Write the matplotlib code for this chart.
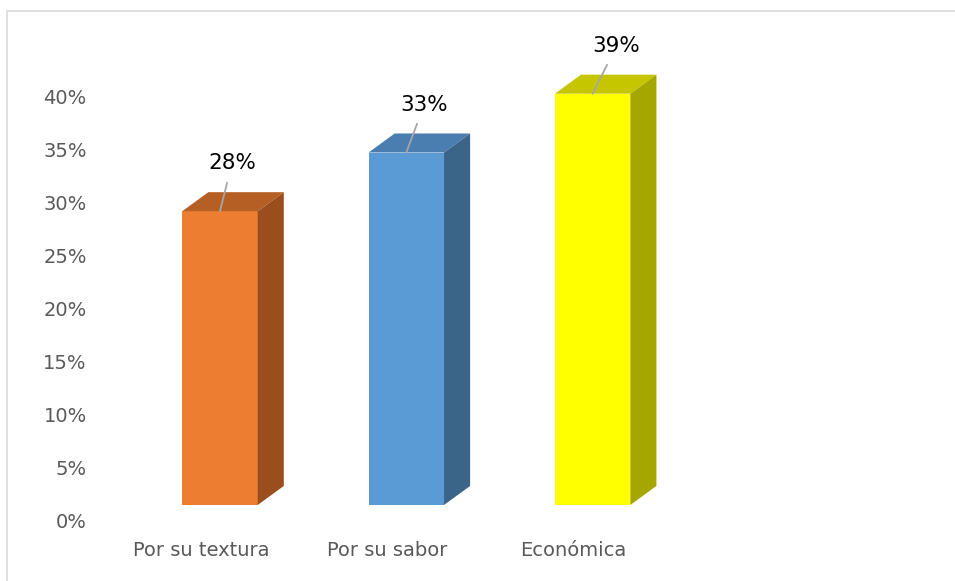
import matplotlib
matplotlib.use("Agg")
import matplotlib.pyplot as plt
from matplotlib.patches import Polygon, Rectangle
import numpy as np

# data
categories = ['Por su textura', 'Por su sabor', 'Económica']
values = [27.78, 33.33, 38.89]
yticks = [0, 5, 10, 15, 20, 25, 30, 35, 40]

front_colors = ['#ED7D31', '#5B9BD5', '#FFFF00']
top_colors = ['#B65F24', '#4A7DB0', '#C6C600']
side_colors = ['#9A4E1D', '#3B6489', '#A6A600']
label_dx = [12, 18, 24]  # pixel offsets of the value labels

plt.rcParams['font.family'] = ['DejaVu Sans']

fig = plt.figure(figsize=(9.55, 5.81), dpi=100)
ax = fig.add_axes([100 / 955, 61 / 581, 855 / 955, 465.3 / 581])

x = np.arange(len(categories))
base = 1.42      # 3d floor offset
shift = 0.102    # front face centre right of the category label
width = 0.405
dx, dy = 0.14, 1.8

ax.bar(x + shift, values, width=width, bottom=base, color=front_colors, zorder=3)
for i, v in enumerate(values):
    x0 = x[i] + shift - width / 2
    x1 = x[i] + shift + width / 2
    top = base + v
    ax.add_patch(Polygon([(x0, top), (x1, top), (x1 + dx, top + dy), (x0 + dx, top + dy)],
                         closed=True, facecolor=top_colors[i], edgecolor='none', zorder=3))
    ax.add_patch(Polygon([(x1, base), (x1 + dx, base + dy), (x1 + dx, top + dy), (x1, top)],
                         closed=True, facecolor=side_colors[i], edgecolor='none', zorder=3))
    ax.annotate(f'{v:.0f}%', xy=(x[i] + shift, top), xytext=(label_dx[i], 48),
                textcoords='offset pixels', ha='center', va='center', fontsize=15.5,
                color='black', zorder=4,
                arrowprops=dict(arrowstyle='-', color='#A6A6A6', lw=1.3,
                                shrinkA=5, shrinkB=0))

ax.set_xlim(-0.542, 4.047)
ax.set_ylim(0, 44)
ax.set_yticks(yticks)
ax.set_yticklabels([f'{t}%' for t in yticks])
ax.set_xticks(x)
ax.set_xticklabels(categories)
ax.tick_params(axis='y', length=0, pad=9.5, labelsize=14, labelcolor='#595959')
ax.tick_params(axis='x', length=0, pad=15, labelsize=14, labelcolor='#595959')
for s in ax.spines.values():
    s.set_visible(False)
ax.patch.set_alpha(0)

fig.patches.append(Rectangle((6.5 / 955, -0.1), 1.2, 1 - 10.5 / 581 + 0.1,
                             transform=fig.transFigure, fill=False,
                             edgecolor='#D9D9D9', lw=1.2))

fig.savefig('out.png', dpi=100)
